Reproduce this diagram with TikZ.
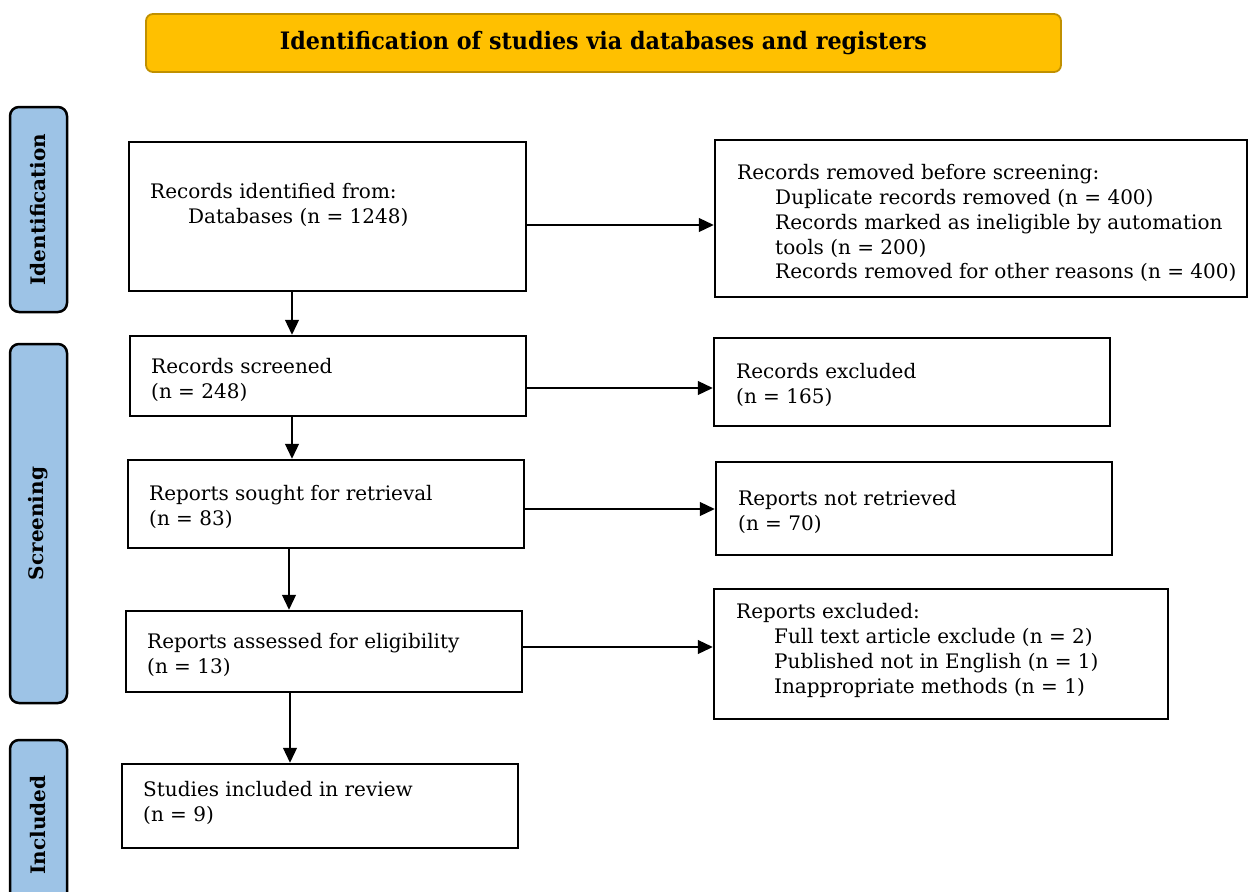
\documentclass[tikz,border=0pt]{standalone}
\usepackage{graphicx}
\usepackage{fontspec}
\setmainfont{DejaVu Serif}
\usetikzlibrary{arrows.meta}
\definecolor{hdrfill}{HTML}{FFC000}
\definecolor{hdrline}{HTML}{C09000}
\definecolor{sideblue}{HTML}{9DC3E6}
\begin{document}
\begin{tikzpicture}[x=1pt,y=-1pt,
  box/.style={draw=black, line width=2.5pt, inner sep=0pt},
  txt/.style={anchor=base west, inner sep=0pt, font=\fontsize{20}{23}\selectfont},
  side/.style={draw=black, line width=2.5pt, fill=sideblue, rounded corners=9pt, rotate=90, inner sep=0pt, font=\bfseries\fontsize{20}{22}\selectfont},
  arr/.style={-{Triangle[length=15pt,width=14pt]}, line width=1.2pt}]
\useasboundingbox (0,0) rectangle (1249,891);
% header
\node[draw=hdrline, fill=hdrfill, line width=1.8pt, rounded corners=7pt, minimum width=915pt, minimum height=58pt, inner sep=0pt] (hdr) at (603.5,43)
  {\resizebox{647pt}{\height}{\bfseries\fontsize{24}{27}\selectfont Identification of studies via databases and registers}};
% side labels
\node[side, minimum width=205pt, minimum height=57pt] (s1) at (38.5,209.5) {Identification};
\node[side, minimum width=359pt, minimum height=57pt] (s2) at (38.5,523.5) {Screening};
\node[side, minimum width=170pt, minimum height=57pt] (s3) at (38.5,825) {Included};
% boxes
\node[box, minimum width=397pt, minimum height=149pt] (b1) at (327.5,216.5) {};
\node[box, minimum width=532pt, minimum height=157pt] (b2) at (981,218.5) {};
\node[box, minimum width=396pt, minimum height=80pt] (b3) at (328,376) {};
\node[box, minimum width=396pt, minimum height=88pt] (b4) at (912,382) {};
\node[box, minimum width=396pt, minimum height=88pt] (b5) at (326,504) {};
\node[box, minimum width=396pt, minimum height=93pt] (b6) at (914,508.5) {};
\node[box, minimum width=396pt, minimum height=81pt] (b7) at (324,651.5) {};
\node[box, minimum width=454pt, minimum height=130pt] (b8) at (941,654) {};
\node[box, minimum width=396pt, minimum height=84pt] (b9) at (320,806) {};
% texts
\node[txt] (t1a) at (150,198) {Records identified from:};
\node[txt] (t1b) at (188,223) {Databases (n = 1248)};
\node[txt] (t2a) at (737,179) {Records removed before screening:};
\node[txt] (t2b) at (775,204) {Duplicate records removed (n = 400)};
\node[txt] (t2c) at (775,229) {Records marked as ineligible by automation};
\node[txt] (t2d) at (775,254) {tools (n = 200)};
\node[txt] (t2e) at (775,278) {Records removed for other reasons (n = 400)};
\node[txt] (t3a) at (151,373) {Records screened};
\node[txt] (t3b) at (151,398) {(n = 248)};
\node[txt] (t4a) at (736,378) {Records excluded};
\node[txt] (t4b) at (736,403) {(n = 165)};
\node[txt] (t5a) at (149,500) {Reports sought for retrieval};
\node[txt] (t5b) at (149,525) {(n = 83)};
\node[txt] (t6a) at (738,505) {Reports not retrieved};
\node[txt] (t6b) at (738,530) {(n = 70)};
\node[txt] (t7a) at (147,648) {Reports assessed for eligibility};
\node[txt] (t7b) at (147,673) {(n = 13)};
\node[txt] (t8a) at (736,618) {Reports excluded:};
\node[txt] (t8b) at (774,643) {Full text article exclude (n = 2)};
\node[txt] (t8c) at (774,668) {Published not in English (n = 1)};
\node[txt] (t8d) at (774,693) {Inappropriate methods (n = 1)};
\node[txt] (t9a) at (143,796) {Studies included in review};
\node[txt] (t9b) at (143,821) {(n = 9)};
% arrows
\draw[arr] (b1.east |- 0,225) -- (b2.west |- 0,225);
\draw[arr] (b3.east |- 0,388) -- (b4.west |- 0,388);
\draw[arr] (b5.east |- 0,509) -- (b6.west |- 0,509);
\draw[arr] (b7.east |- 0,647) -- (b8.west |- 0,647);
\draw[arr] (b1.south -| 292,0) -- (b3.north -| 292,0);
\draw[arr] (b3.south -| 292,0) -- (b5.north -| 292,0);
\draw[arr] (b5.south -| 289,0) -- (b7.north -| 289,0);
\draw[arr] (b7.south -| 290,0) -- (b9.north -| 290,0);
\end{tikzpicture}
\end{document}
